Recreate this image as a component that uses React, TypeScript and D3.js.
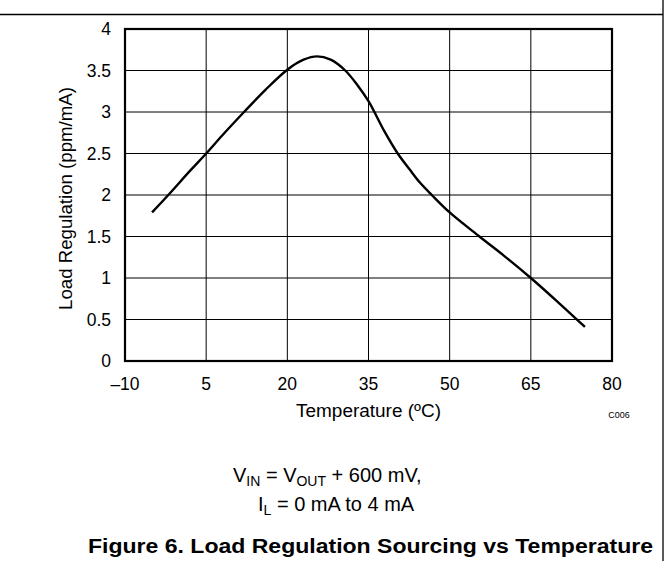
import React from "react";
import * as d3 from "d3";

const temps = [-5, -2, 2, 5, 8, 12, 16, 20, 23, 25.5, 28, 30.7, 33, 35, 38, 40.4, 42.7, 44.5, 46.7, 50, 55.5, 60, 65, 70, 75];
const values = [1.79, 2.0, 2.29, 2.5, 2.72, 3.0, 3.27, 3.51, 3.63, 3.67, 3.63, 3.5, 3.32, 3.13, 2.76, 2.5, 2.3, 2.15, 2.0, 1.79, 1.5, 1.27, 1.0, 0.71, 0.41];
const xTicks = [-10, 5, 20, 35, 50, 65, 80];
const xTickLabels = ["\u201310", "5", "20", "35", "50", "65", "80"];
const yTicks = [0, 0.5, 1, 1.5, 2, 2.5, 3, 3.5, 4];
const yTickLabels = ["0", "0.5", "1", "1.5", "2", "2.5", "3", "3.5", "4"];

const W = 669;
const H = 561;
const L = 125, R = 612, T = 29, B = 361;
const font = "Arial, 'Liberation Sans', Helvetica, sans-serif";

export default function App() {
  const x = d3.scaleLinear().domain([-10, 80]).range([L, R]);
  const y = d3.scaleLinear().domain([0, 4]).range([B, T]);
  const pts = temps.map((t, i) => [t, values[i]] as [number, number]);
  const line = d3
    .line<[number, number]>()
    .x((d) => x(d[0]))
    .y((d) => y(d[1]))
    .curve(d3.curveCatmullRom.alpha(0.5));

  return (
    <svg
      width={W}
      height={H}
      style={{ position: "absolute", left: 0, top: 0, background: "#fff" }}
      fontFamily={font}
    >
      <rect x={0} y={0} width={W} height={H} fill="#fff" />
      {/* page frame */}
      <line x1={0} x2={663} y1={14.5} y2={14.5} stroke="#000" strokeWidth={1.3} />
      <line x1={663} x2={663} y1={0} y2={H} stroke="#000" strokeWidth={1.3} />

      {/* grid */}
      {xTicks.slice(1, -1).map((t) => (
        <line key={"gx" + t} x1={x(t)} x2={x(t)} y1={T} y2={B} stroke="#000" strokeWidth={1} />
      ))}
      {yTicks.slice(1, -1).map((t) => (
        <line key={"gy" + t} x1={L} x2={R} y1={y(t)} y2={y(t)} stroke="#000" strokeWidth={1} />
      ))}
      <rect x={L} y={T} width={R - L} height={B - T} fill="none" stroke="#000" strokeWidth={2.2} />

      {/* curve */}
      <path d={line(pts) || ""} fill="none" stroke="#000" strokeWidth={2.4} strokeLinecap="butt" />

      {/* y ticks */}
      {yTicks.map((t, i) => (
        <text key={"yt" + t} x={111} y={y(t)} dy="0.36em" textAnchor="end" fontSize={17.5} fill="#000">
          {yTickLabels[i]}
        </text>
      ))}
      {/* x ticks */}
      {xTicks.map((t, i) => (
        <text key={"xt" + t} x={x(t)} y={390} textAnchor="middle" fontSize={17.5} fill="#000">
          {xTickLabels[i]}
        </text>
      ))}

      <text x={296} y={417} fontSize={17.5} fill="#000" textLength={145} lengthAdjust="spacingAndGlyphs">
        Temperature (ºC)
      </text>
      <text x={619} y={418} textAnchor="middle" fontSize={9} fill="#000">
        C006
      </text>
      <text
        transform={`translate(72,310) rotate(-90)`}
        fontSize={17.5}
        fill="#000"
        textLength={223}
        lengthAdjust="spacingAndGlyphs"
      >
        Load Regulation (ppm/mA)
      </text>

      {/* conditions */}
      <text x={233} y={482} fontSize={20} fill="#000">
        V<tspan fontSize={14} dy={4}>IN</tspan>
        <tspan dy={-4}> = V</tspan>
        <tspan fontSize={14} dy={4}>OUT</tspan>
        <tspan dy={-4}> + 600 mV,</tspan>
      </text>
      <text x={258} y={511} fontSize={20} fill="#000">
        I<tspan fontSize={14} dy={4}>L</tspan>
        <tspan dy={-4}> = 0 mA to 4 mA</tspan>
      </text>

      <text
        x={88}
        y={553}
        fontSize={20}
        fontWeight="bold"
        fill="#000"
        textLength={565}
        lengthAdjust="spacingAndGlyphs"
      >
        Figure 6. Load Regulation Sourcing vs Temperature
      </text>
    </svg>
  );
}
